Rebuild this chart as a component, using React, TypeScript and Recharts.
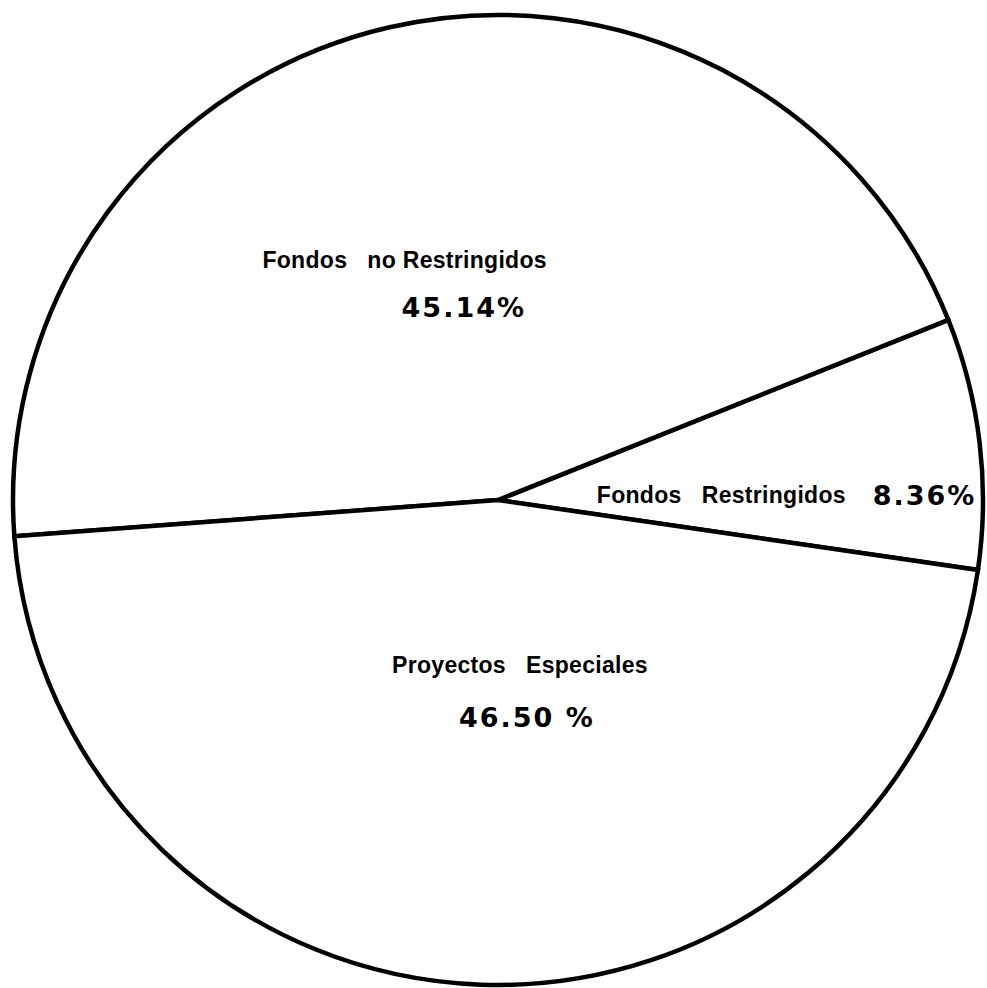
import React from "react";
import { PieChart, Pie, Cell } from "recharts";

const SLICES = ["Fondos Restringidos", "Fondos no Restringidos", "Proyectos Especiales"];
const SHARES = [8.36, 45.14, 46.5];
const LABEL_LINES = [
  ["Fondos   Restringidos    8.36%"],
  ["Fondos   no Restringidos", "45.14%"],
  ["Proyectos   Especiales", "46.50 %"],
];

// where each label line sits: fraction of radius, angle shift from mid-angle, anchor
const LABEL_POS = [
  [{ rf: 0.204, da: -3.85, anchor: "start" }],
  [
    { rf: 0.531, da: 8.2, anchor: "middle" },
    { rf: 0.404, da: -3.0, anchor: "middle" },
  ],
  [
    { rf: 0.343, da: 9.6, anchor: "middle" },
    { rf: 0.451, da: 9.6, anchor: "middle" },
  ],
];

const RAD = Math.PI / 180;

const data = SLICES.map((name, i) => ({ name, value: SHARES[i] }));

const wordStyle = {
  fontFamily: "'Liberation Sans', Arial, sans-serif",
  fontWeight: 700,
  fontSize: 23,
  letterSpacing: 0.3,
};
const numStyle = {
  fontFamily: "'DejaVu Sans', sans-serif",
  fontWeight: 700,
  fontSize: 27,
  letterSpacing: 2,
};

const renderLabel = (props: any) => {
  const { cx, cy, midAngle, outerRadius, index } = props;
  return (
    <g>
      {LABEL_LINES[index].map((line, j) => {
        const p = LABEL_POS[index][j];
        const a = (midAngle + p.da) * RAD;
        const r = outerRadius * p.rf;
        const parts = line.split(/(\d[\d.]*\s?%)/).filter((s) => s.length);
        return (
          <text
            key={j}
            x={cx + r * Math.cos(a)}
            y={cy - r * Math.sin(a)}
            textAnchor={p.anchor}
            dominantBaseline="central"
            fill="#000"
            style={{ whiteSpace: "pre" }}
          >
            {parts.map((s, k) => (
              <tspan key={k} style={/\d/.test(s) ? numStyle : wordStyle}>
                {s}
              </tspan>
            ))}
          </text>
        );
      })}
    </g>
  );
};

export default function App() {
  return (
    <div style={{ position: "absolute", left: 0, top: 0, width: 987, height: 988, background: "#fff" }}>
      <PieChart width={987} height={988} margin={{ top: 0, right: 0, bottom: 0, left: 0 }}>
        <Pie
          data={data}
          dataKey="value"
          nameKey="name"
          cx={498}
          cy={500}
          outerRadius={485}
          startAngle={-8.3}
          endAngle={351.7}
          stroke="#000"
          strokeWidth={4.5}
          label={renderLabel}
          labelLine={false}
          isAnimationActive={false}
        >
          {data.map((d, i) => (
            <Cell key={i} fill="#fff" />
          ))}
        </Pie>
      </PieChart>
    </div>
  );
}
